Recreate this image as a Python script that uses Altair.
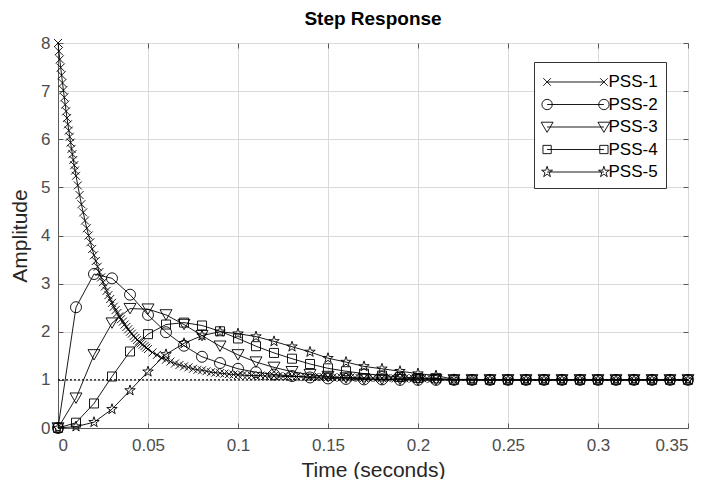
import altair as alt
import pandas as pd

# ---------------- data ----------------
series_names = ["PSS-1", "PSS-2", "PSS-3", "PSS-4", "PSS-5"]

# PSS-1 has its own (finer) time grid
t_pss1 = ([round(i * 0.0005, 4) for i in range(21)]
          + [round(0.011 + i * 0.001, 4) for i in range(40)]
          + [round(0.0525 + i * 0.0025, 4) for i in range(64)]
          + [round(0.22 + i * 0.01, 3) for i in range(14)])
y_pss1 = [8.00, 7.83, 7.66, 7.49, 7.33, 7.17, 7.02, 6.87, 6.72, 6.58, 6.44,
          6.31, 6.18, 6.05, 5.93, 5.80, 5.69, 5.57, 5.46, 5.35, 5.24,
          5.04, 4.84, 4.65, 4.48, 4.31, 4.15, 4.00, 3.86, 3.72, 3.59,
          3.47, 3.35, 3.24, 3.13, 3.03, 2.94, 2.85, 2.76, 2.68, 2.60,
          2.52, 2.45, 2.39, 2.32, 2.26, 2.21, 2.15, 2.10, 2.05, 2.00,
          1.96, 1.91, 1.87, 1.83, 1.80, 1.76, 1.73, 1.70, 1.67, 1.64,
          1.57, 1.52, 1.46, 1.42, 1.38, 1.34, 1.31, 1.28, 1.26, 1.23,
          1.21, 1.20, 1.18, 1.16, 1.15, 1.14, 1.13, 1.12, 1.11, 1.10,
          1.10, 1.09, 1.09, 1.09, 1.09, 1.08, 1.08, 1.08, 1.08, 1.07,
          1.07, 1.07, 1.07, 1.07, 1.06, 1.06, 1.06, 1.06, 1.06, 1.06,
          1.05, 1.05, 1.05, 1.05, 1.05, 1.05, 1.04, 1.04, 1.04, 1.04,
          1.04, 1.04, 1.04, 1.04, 1.03, 1.03, 1.03, 1.03, 1.03, 1.03,
          1.03, 1.03, 1.02, 1.02,
          1.01, 1.01, 1.00, 1.00, 1.00, 1.00, 1.00, 1.00, 1.00, 1.00,
          1.00, 1.00, 1.00, 1.00]

t_common = [round(i * 0.01, 2) for i in range(36)]
y_pss2 = [0.00, 2.51, 3.20, 3.11, 2.77, 2.35, 1.99, 1.71, 1.48, 1.35,
          1.23, 1.16, 1.11, 1.08, 1.05, 1.03, 1.02, 1.01, 1.01, 1.00,
          1.00, 1.00, 1.00, 1.00, 1.00, 1.00, 1.00, 1.00, 1.00, 1.00,
          1.00, 1.00, 1.00, 1.00, 1.00, 1.00]
y_pss3 = [0.00, 0.62, 1.52, 2.18, 2.48, 2.47, 2.35, 2.15, 1.92, 1.70,
          1.52, 1.37, 1.26, 1.17, 1.11, 1.07, 1.04, 1.02, 1.01, 1.01,
          1.00, 1.00, 1.00, 1.00, 1.00, 1.00, 1.00, 1.00, 1.00, 1.00,
          1.00, 1.00, 1.00, 1.00, 1.00, 1.00]
y_pss4 = [0.00, 0.11, 0.51, 1.07, 1.59, 1.95, 2.15, 2.19, 2.13, 2.01,
          1.86, 1.70, 1.56, 1.44, 1.33, 1.24, 1.18, 1.13, 1.09, 1.06,
          1.04, 1.03, 1.00, 1.00, 1.00, 1.00, 1.00, 1.00, 1.00, 1.00,
          1.00, 1.00, 1.00, 1.00, 1.00, 1.00]
y_pss5 = [0.00, 0.03, 0.12, 0.39, 0.78, 1.17, 1.53, 1.76, 1.92, 2.00,
          1.96, 1.90, 1.80, 1.69, 1.58, 1.45, 1.37, 1.28, 1.23, 1.18,
          1.13, 1.09, 1.01, 1.00, 1.00, 1.00, 1.00, 1.00, 1.00, 1.00,
          1.00, 1.00, 1.00, 1.00, 1.00, 1.00]

steady_state = [1.0]
x_ticks = [0, 0.05, 0.1, 0.15, 0.2, 0.25, 0.3, 0.35]
y_ticks = [0, 1, 2, 3, 4, 5, 6, 7, 8]

# ---------------- styles ----------------
FONT = "Liberation Sans"
W, H = 630, 385
AX = "#5a5a5a"


def star(cx, cy, r):
    outer = [(0, -1), (0.951, -0.309), (0.588, 0.809), (-0.588, 0.809), (-0.951, -0.309)]
    inner = [(0.2245, -0.309), (0.363, 0.118), (0, 0.382), (-0.363, 0.118), (-0.2245, -0.309)]
    pts = []
    for o, i in zip(outer, inner):
        pts += [o, i]
    s = "M" + "L".join(f"{cx + px * r:.3f},{cy + py * r:.3f}" for px, py in pts) + "Z"
    return s


def xmark(cx, r):
    return (f"M{cx - r:.3f},{-r:.3f}L{cx + r:.3f},{r:.3f}"
            f"M{cx - r:.3f},{r:.3f}L{cx + r:.3f},{-r:.3f}")


def circ(cx, r):
    return (f"M{cx + r:.3f},0A{r},{r} 0 1,0 {cx - r:.3f},0"
            f"A{r},{r} 0 1,0 {cx + r:.3f},0")


def tri(cx, r):
    return (f"M{cx - r:.3f},{-0.8 * r:.3f}L{cx + r:.3f},{-0.8 * r:.3f}"
            f"L{cx:.3f},{0.9 * r:.3f}Z")


def sq(cx, r):
    return (f"M{cx - r:.3f},{-r:.3f}L{cx + r:.3f},{-r:.3f}L{cx + r:.3f},{r:.3f}"
            f"L{cx - r:.3f},{r:.3f}Z")


L = 2.47
line = f"M{-L},0L{L},0"
legend_paths = [
    line + xmark(-L, 0.33) + xmark(L, 0.33),
    line + circ(-L, 0.45) + circ(L, 0.45),
    line + tri(-L, 0.52) + tri(L, 0.52),
    line + sq(-L, 0.36) + sq(L, 0.36),
    line + star(-L, 0, 0.5) + star(L, 0, 0.5),
]
point_shapes = ["M-1,-1L1,1M-1,1L1,-1", "circle", "triangle-down", "square", star(0, 0, 1)]
point_sizes = [64, 121, 144, 81, 121]

# ---------------- table ----------------
rows = []
for k, (ts, ys) in enumerate([(t_pss1, y_pss1), (t_common, y_pss2), (t_common, y_pss3),
                              (t_common, y_pss4), (t_common, y_pss5)]):
    for j, (t, y) in enumerate(zip(ts, ys)):
        rows.append({"series": series_names[k], "t": t, "y": y, "idx": j,
                     "msize": point_sizes[k]})
df = pd.DataFrame(rows)
legend_df = df[df["idx"] == 0].copy()

xscale = alt.Scale(domain=[0, 0.35], nice=False, zero=False)
yscale = alt.Scale(domain=[0, 8], nice=False, zero=False)

main_x = alt.Axis(values=x_ticks, format="~g", orient="bottom", grid=True, gridColor="#dadada",
                  gridWidth=1, ticks=False, tickSize=0, labelFont=FONT, labelFontSize=17,
                  labelColor="#4d4d4d", labelPadding=9, title="Time (seconds)", titleFont=FONT,
                  titleFontSize=21, titleFontWeight="normal", titleColor="#262626",
                  titlePadding=6, domainColor=AX, domainWidth=1)
main_y = alt.Axis(values=y_ticks, format="d", orient="left", grid=True, gridColor="#dadada",
                  gridWidth=1, ticks=False, tickSize=0, labelFont=FONT, labelFontSize=17,
                  labelColor="#4d4d4d", labelPadding=8, title="Amplitude", titleFont=FONT,
                  titleFontSize=21, titleFontWeight="normal", titleColor="#262626",
                  titlePadding=10, domainColor=AX, domainWidth=1)


def tick_axis(vals, orient, offset):
    return alt.Axis(values=vals, orient=orient, offset=offset, labels=False, grid=False,
                    domain=False, ticks=True, tickSize=5, tickColor=AX, tickWidth=1, title=None)


rule = alt.Chart(pd.DataFrame({"ss": steady_state})).mark_rule(
    color="black", strokeDash=[2, 2], strokeWidth=1.2
).encode(y=alt.Y("ss:Q", scale=yscale, axis=None))

lines = alt.Chart(df).mark_line(color="black", strokeWidth=0.9).encode(
    x=alt.X("t:Q", scale=xscale, axis=main_x),
    y=alt.Y("y:Q", scale=yscale, axis=main_y),
    detail="series:N",
    order="idx:Q",
)

points = alt.Chart(df).mark_point(filled=False, color="black", strokeWidth=0.9, opacity=1).encode(
    x=alt.X("t:Q", scale=xscale, axis=tick_axis(x_ticks, "top", -H)),
    y=alt.Y("y:Q", scale=yscale, axis=tick_axis(y_ticks, "right", -W)),
    shape=alt.Shape("series:N", scale=alt.Scale(domain=series_names, range=point_shapes), legend=None),
    size=alt.Size("msize:Q", scale=None),
)

legend_layer = alt.Chart(legend_df).mark_point(opacity=0).encode(
    x=alt.X("t:Q", scale=xscale, axis=tick_axis(x_ticks, "bottom", -H)),
    y=alt.Y("y:Q", scale=yscale, axis=tick_axis(y_ticks, "left", -W)),
    shape=alt.Shape(
        "series:N",
        scale=alt.Scale(domain=series_names, range=legend_paths),
        legend=alt.Legend(orient="none", legendX=476, legendY=19, title=None,
                          fillColor="white", strokeColor="#333333", padding=8,
                          symbolSize=529, symbolStrokeWidth=0.9, symbolStrokeColor="black",
                          symbolFillColor="transparent", symbolOpacity=1, symbolOffset=21.5,
                          labelOffset=21, labelFont=FONT, labelFontSize=17, labelColor="black",
                          rowPadding=2.5, cornerRadius=0),
    ),
)

chart = alt.layer(rule, lines, points, legend_layer).resolve_scale(
    shape="independent"
).resolve_axis(x="independent", y="independent").properties(
    width=W, height=H,
    title=alt.Title("Step Response", fontSize=19, font=FONT, fontWeight="bold",
                    color="black", offset=5, anchor="middle"),
    padding={"left": 50, "top": 35, "right": 7, "bottom": 51},
    autosize="none",
).configure_view(stroke=AX, strokeWidth=1)

chart.save("out.html", embed_options={"renderer": "svg", "actions": False})
